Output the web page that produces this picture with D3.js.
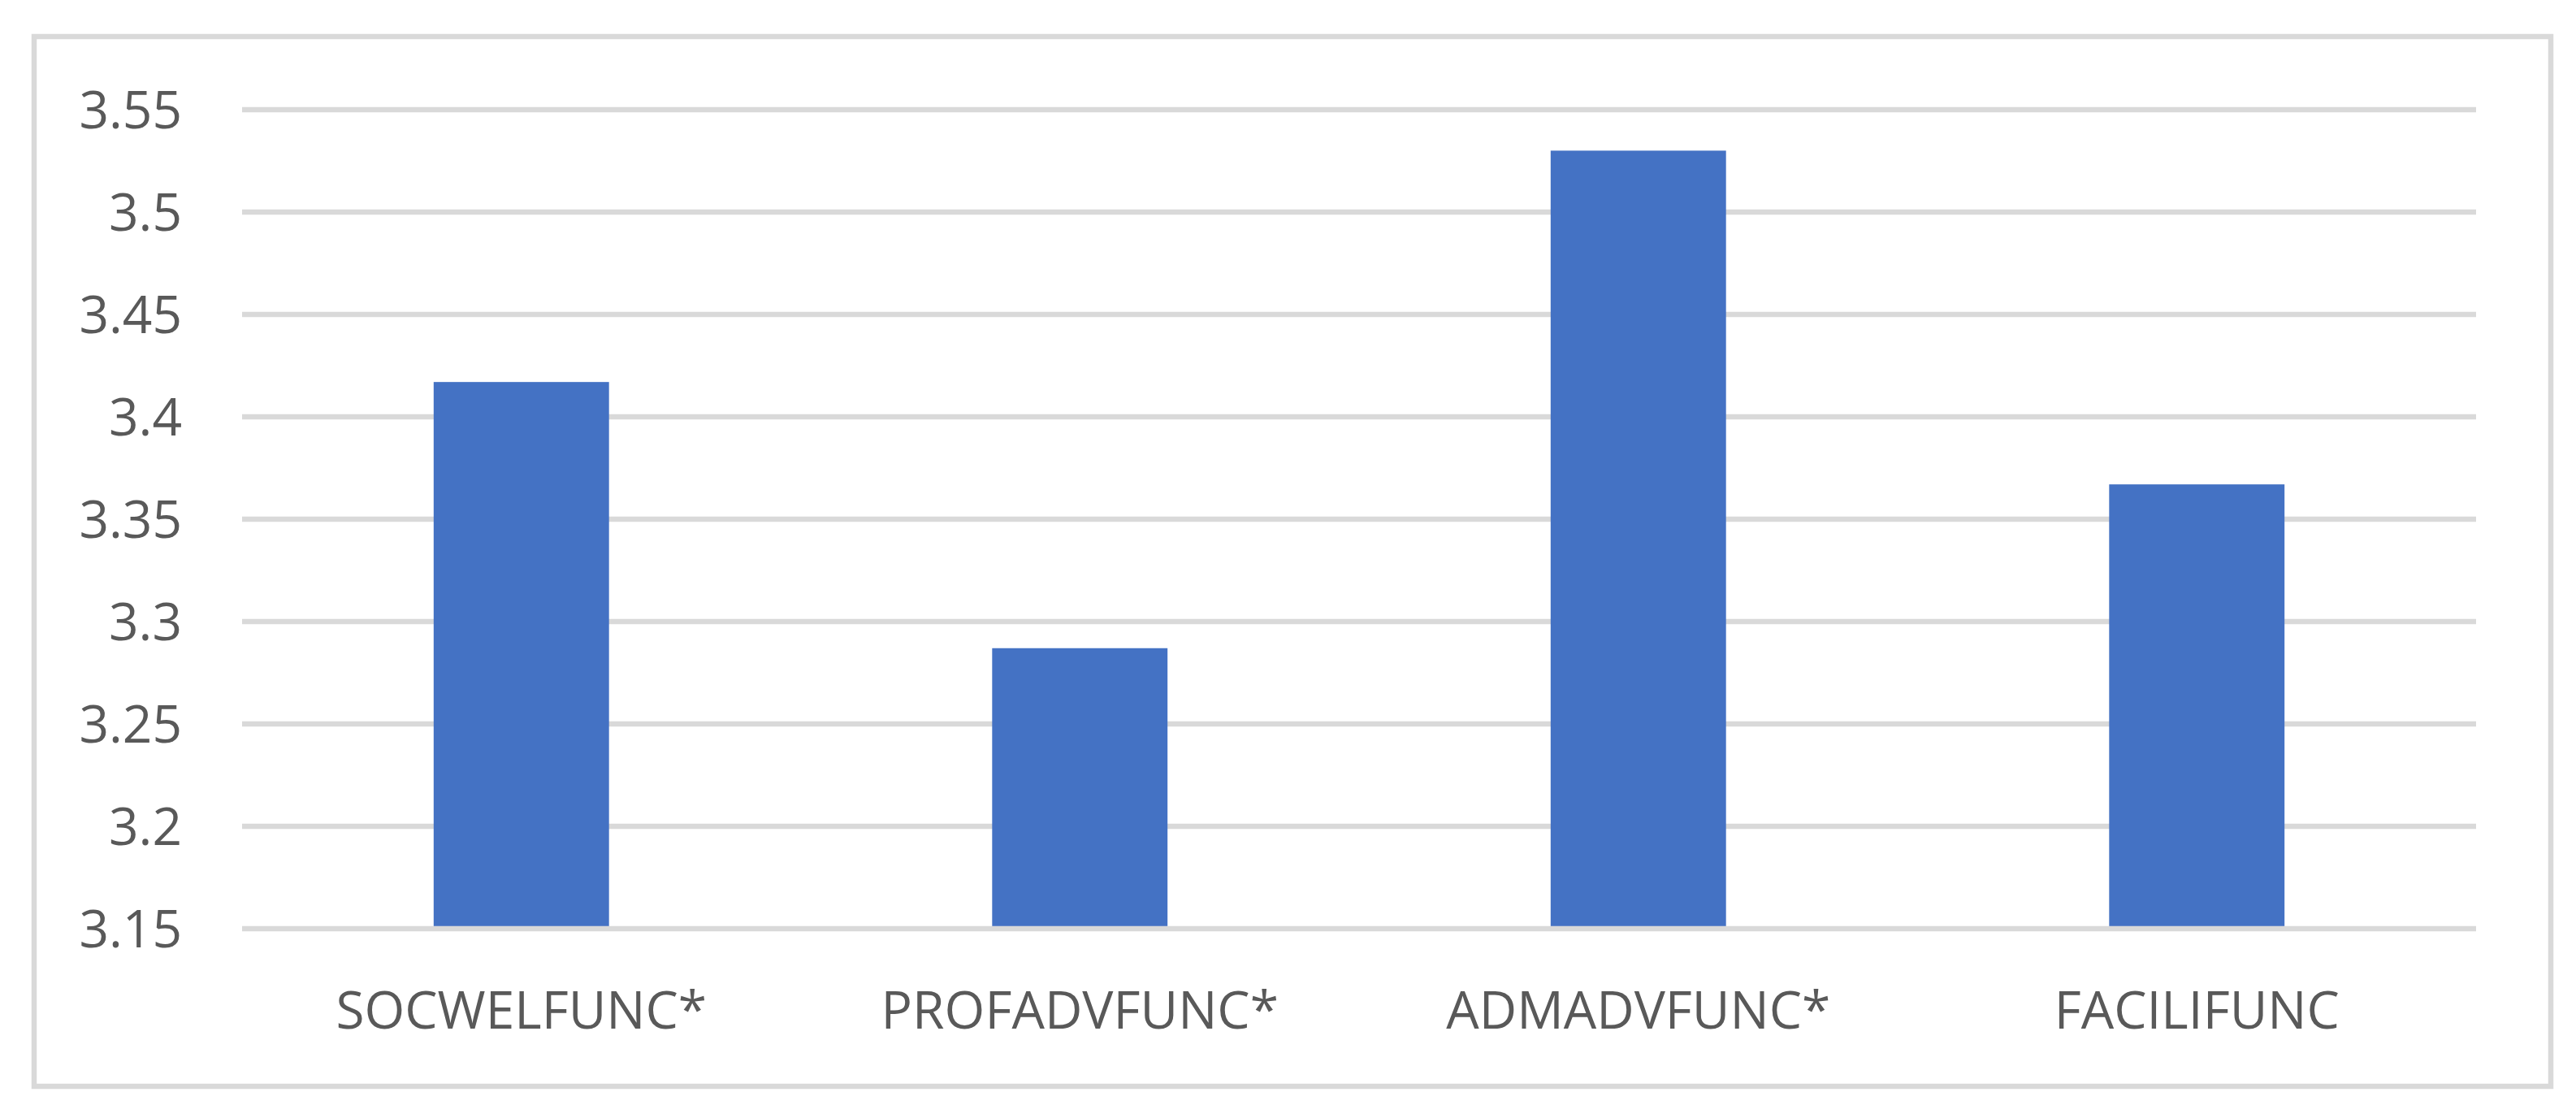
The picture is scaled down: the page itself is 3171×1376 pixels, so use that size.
<!DOCTYPE html>
<html>
<head>
<meta charset="utf-8">
<script src="https://cdn.jsdelivr.net/npm/d3@7/dist/d3.min.js"></script>
<style>
  html, body { margin: 0; padding: 0; background: #ffffff; }
  svg { display: block; }
  text { font-family: "Open Sans", "Noto Sans", sans-serif; fill: #595959; }
</style>
</head>
<body>
<svg id="chart" width="3171" height="1376"></svg>
<script>
const categories = ["SOCWELFUNC*", "PROFADVFUNC*", "ADMADVFUNC*", "FACILIFUNC"];
const values = [3.417, 3.287, 3.530, 3.367];
const yTicks = [3.15, 3.2, 3.25, 3.3, 3.35, 3.4, 3.45, 3.5, 3.55];
const yTickLabels = ["3.15", "3.2", "3.25", "3.3", "3.35", "3.4", "3.45", "3.5", "3.55"];

const W = 3171, H = 1376;
const plot = { left: 298, right: 3048, top: 135, bottom: 1143 };

const svg = d3.select("#chart");

// outer border
svg.append("rect")
  .attr("x", 42).attr("y", 45)
  .attr("width", 3098).attr("height", 1292)
  .attr("fill", "#ffffff")
  .attr("stroke", "#d9d9d9")
  .attr("stroke-width", 6.5);

const x = d3.scaleBand()
  .domain(categories)
  .range([plot.left, plot.right])
  .paddingInner(0.686)
  .paddingOuter(0.343);

const y = d3.scaleLinear()
  .domain([3.15, 3.55])
  .range([plot.bottom, plot.top]);

// gridlines (behind bars)
svg.append("g").selectAll("line")
  .data(yTicks.slice(1))
  .join("line")
  .attr("x1", plot.left).attr("x2", plot.right)
  .attr("y1", d => y(d)).attr("y2", d => y(d))
  .attr("stroke", "#d9d9d9")
  .attr("stroke-width", 6.5);

// bars
svg.append("g").selectAll("rect")
  .data(categories.map((c, i) => ({ c, v: values[i] })))
  .join("rect")
  .attr("x", d => x(d.c))
  .attr("width", x.bandwidth())
  .attr("y", d => y(d.v))
  .attr("height", d => y(3.15) - y(d.v))
  .attr("fill", "#4472c4");

// category axis line (on top)
svg.append("line")
  .attr("x1", plot.left).attr("x2", plot.right)
  .attr("y1", y(3.15)).attr("y2", y(3.15))
  .attr("stroke", "#d9d9d9")
  .attr("stroke-width", 6.5);

// y tick labels
svg.append("g").selectAll("text")
  .data(yTicks)
  .join("text")
  .attr("x", 224)
  .attr("y", d => y(d))
  .attr("dy", "0.36em")
  .attr("text-anchor", "end")
  .attr("font-size", 64)
  .text((d, i) => yTickLabels[i]);

// x labels
svg.append("g").selectAll("text")
  .data(categories)
  .join("text")
  .attr("x", d => x(d) + x.bandwidth() / 2)
  .attr("y", 1266)
  .attr("text-anchor", "middle")
  .attr("font-size", 64)
  .text(d => d);
</script>
</body>
</html>
